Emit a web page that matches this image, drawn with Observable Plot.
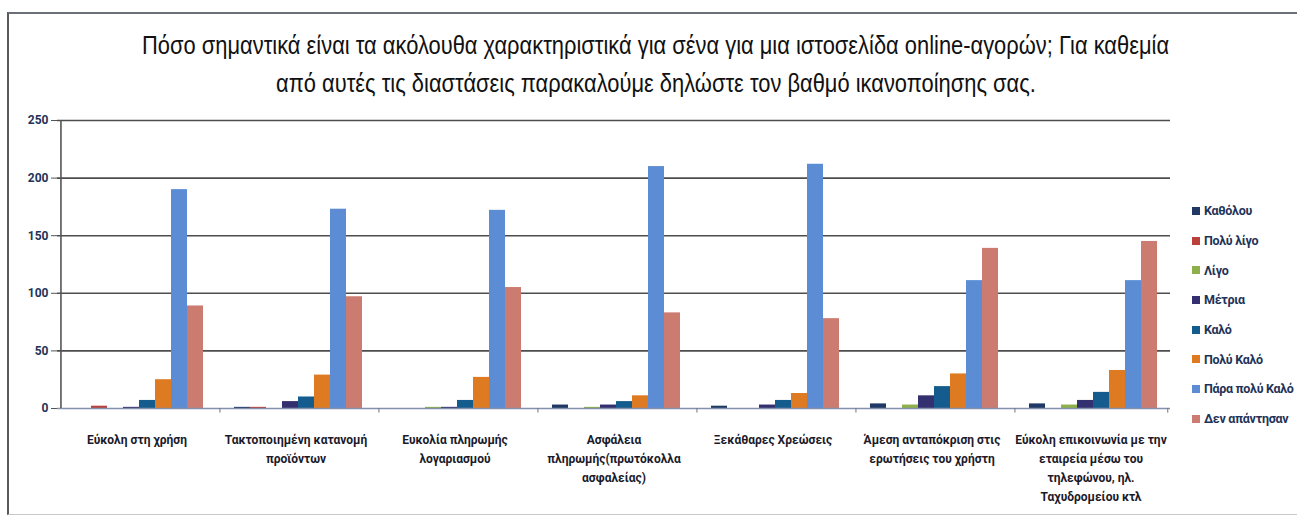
<!DOCTYPE html>
<html>
<head>
<meta charset="utf-8">
<script src="https://cdn.jsdelivr.net/npm/d3@7"></script>
<script src="https://cdn.jsdelivr.net/npm/@observablehq/plot@0.6"></script>
<style>
  html, body { margin: 0; padding: 0; background: #fff; }
  #page { position: relative; width: 1297px; height: 517px; overflow: hidden; background: #fff; }
  #frame { position: absolute; left: 7px; top: 12px; width: 1300px; height: 500px;
           border-left: 2px solid #5a5a5a; border-top: 2px solid #6a6f7a; border-bottom: 1px solid #c8c8c8; }
  #title { position: absolute; left: 0; top: 26px; width: 1312px; text-align: center;
           font-family: "Liberation Sans", Arial, sans-serif;
           font-size: 25px; line-height: 38px; color: #111; }
  #title span { display: inline-block; white-space: nowrap; transform-origin: 50% 50%; }
  #chart { position: absolute; left: 0; top: 100px; }
  #legend { position: absolute; left: 1192px; top: 196px;
            font-family: Roboto, "DejaVu Sans Condensed", sans-serif;
            font-weight: bold; font-size: 12.5px; letter-spacing: -0.3px; color: #1F3358; }
  #legend .row { height: 29.7px; display: flex; align-items: center; white-space: nowrap; }
  #legend .sw { width: 8px; height: 8px; margin-right: 4px; flex: none; }
</style>
</head>
<body>
<div id="page">
  <div id="frame"></div>
  <div id="title"><span id="t1">Πόσο σημαντικά είναι τα ακόλουθα χαρακτηριστικά για σένα για μια ιστοσελίδα online-αγορών; Για καθεμία</span><br><span id="t2">από αυτές τις διαστάσεις παρακαλούμε δηλώστε τον βαθμό ικανοποίησης σας.</span></div>
  <div id="chart"></div>
  <div id="legend"></div>
</div>
<script>
// ---- Data ----
const categories = [
  "Εύκολη στη χρήση",
  "Τακτοποιημένη κατανομή προϊόντων",
  "Ευκολία πληρωμής λογαριασμού",
  "Ασφάλεια πληρωμής(πρωτόκολλα ασφαλείας)",
  "Ξεκάθαρες Χρεώσεις",
  "Άμεση ανταπόκριση στις ερωτήσεις του χρήστη",
  "Εύκολη επικοινωνία με την εταιρεία μέσω του τηλεφώνου, ηλ. Ταχυδρομείου κτλ"
];
const tickLabels = [
  "Εύκολη στη χρήση",
  "Τακτοποιημένη κατανομή\nπροϊόντων",
  "Ευκολία πληρωμής\nλογαριασμού",
  "Ασφάλεια\nπληρωμής(πρωτόκολλα\nασφαλείας)",
  "Ξεκάθαρες Χρεώσεις",
  "Άμεση ανταπόκριση στις\nερωτήσεις του χρήστη",
  "Εύκολη επικοινωνία με την\nεταιρεία μέσω του\nτηλεφώνου, ηλ.\nΤαχυδρομείου κτλ"
];
const seriesNames = ["Καθόλου", "Πολύ λίγο", "Λίγο", "Μέτρια", "Καλό", "Πολύ Καλό", "Πάρα πολύ Καλό", "Δεν απάντησαν"];
const seriesColors = ["#1F3864", "#B9403B", "#8DB04A", "#34306F", "#155C8E", "#DE7A22", "#5B8CD4", "#CC7B70"];

const katholou      = [0, 1, 0, 3, 2, 4, 4];
const polyLigo      = [2, 1, 0, 0, 0, 0, 0];
const ligo          = [0, 0, 1, 1, 0, 3, 3];
const metria        = [1, 6, 1, 3, 3, 11, 7];
const kalo          = [7, 10, 7, 6, 7, 19, 14];
const polyKalo      = [25, 29, 27, 11, 13, 30, 33];
const paraPolyKalo  = [190, 173, 172, 210, 212, 111, 111];
const denApantisan  = [89, 97, 105, 83, 78, 139, 145];

const yTicks = [0, 50, 100, 150, 200, 250];

// ---- Build table ----
const seriesValues = [katholou, polyLigo, ligo, metria, kalo, polyKalo, paraPolyKalo, denApantisan];
const table = [];
categories.forEach((c, i) => {
  seriesNames.forEach((s, j) => table.push({category: c, series: s, value: seriesValues[j][i]}));
});
const labelOf = new Map(categories.map((c, i) => [c, tickLabels[i]]));

// ---- Title: narrow it like the condensed original ----
(function () {
  const t1 = document.getElementById("t1"), t2 = document.getElementById("t2");
  const w = t1.getBoundingClientRect().width;
  const k = Math.min(1, 1027 / w);
  t1.style.transform = `scaleX(${k})`;
  t2.style.transform = `scaleX(${k})`;
})();

// ---- Layout constants ----
const marginLeft = 54, marginRight = 2, width = 1175;
const facetW = (width - marginLeft - marginRight) / categories.length;
const po = 0.7, align = 0.59;
const step = facetW / (seriesNames.length + 2 * po);
const leftPad = 2 * po * step * align;
const firstCenter = leftPad + step / 2;
const lastCenterFromRight = (facetW - leftPad - step * seriesNames.length) + step / 2;

const font = 'Roboto, "DejaVu Sans Condensed", sans-serif';

const chart = Plot.plot({
  width,
  height: 408,
  marginTop: 20,
  marginBottom: 100,
  marginLeft,
  marginRight,
  style: {fontFamily: font, fontSize: "12px", background: "transparent", overflow: "visible"},
  fx: {domain: categories, padding: 0, axis: null, label: null},
  x: {domain: seriesNames, paddingInner: 0, paddingOuter: po, align, axis: null},
  y: {domain: [0, 250], axis: null},
  color: {domain: seriesNames, range: seriesColors},
  marks: [
    Plot.ruleY(yTicks.filter(d => d > 0), {stroke: "#4d4d4d", strokeWidth: 1.6}),
    Plot.barY(table, {fx: "category", x: "series", y: "value", fill: "series", inset: 0}),
    Plot.ruleY([0], {stroke: "#8390AE", strokeWidth: 1.6}),
    Plot.ruleX([categories[0]], {fx: d => d, x: () => seriesNames[0], y1: 0, y2: 250, dx: -firstCenter, stroke: "#555", strokeWidth: 1.6}),
    Plot.ruleX(categories.slice(1), {fx: d => d, x: () => seriesNames[0], y1: 0, y2: -4, dx: -firstCenter, stroke: "#777"}),
    Plot.ruleX([categories[categories.length - 1]], {fx: d => d, x: () => seriesNames[seriesNames.length - 1], y1: 0, y2: -4, dx: lastCenterFromRight, stroke: "#777"}),
    Plot.axisY({ticks: yTicks, tickSize: 6, tickPadding: 3, stroke: "#555", fill: "#1F3358", fontWeight: "bold", fontSize: 12, label: null}),
    Plot.axisFx({anchor: "bottom", tickSize: 0, tickPadding: 22, tickFormat: c => labelOf.get(c), lineHeight: 1.58, fontWeight: "bold", fontSize: 12, letterSpacing: -0.2, fill: "#1a1a2a", label: null})
  ]
});
document.getElementById("chart").appendChild(chart);

// ---- Legend ----
const legend = document.getElementById("legend");
seriesNames.forEach((s, i) => {
  const row = document.createElement("div");
  row.className = "row";
  const sw = document.createElement("span");
  sw.className = "sw";
  sw.style.background = seriesColors[i];
  const t = document.createElement("span");
  t.textContent = s;
  row.appendChild(sw);
  row.appendChild(t);
  legend.appendChild(row);
});
</script>
</body>
</html>
